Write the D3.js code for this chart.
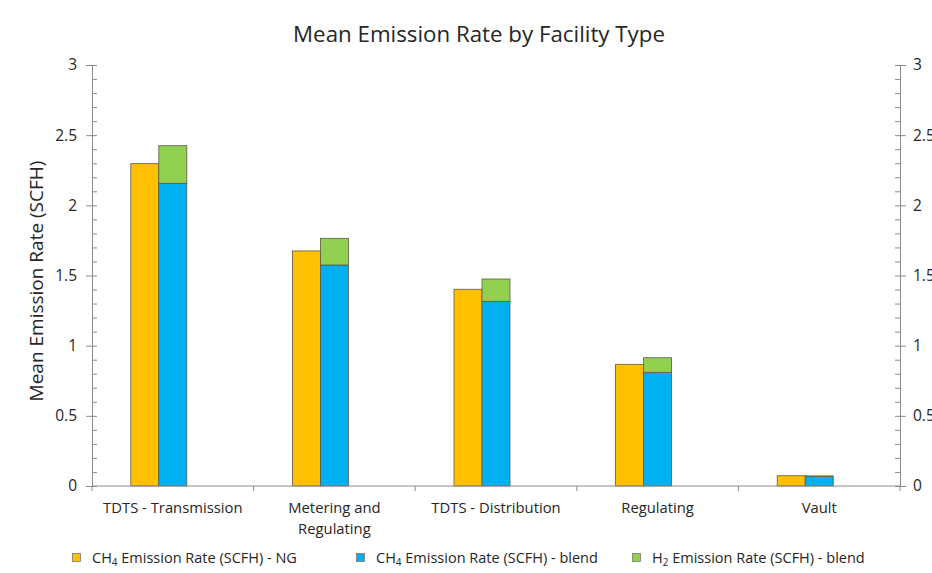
<!DOCTYPE html>
<html>
<head>
<meta charset="utf-8">
<script src="https://cdn.jsdelivr.net/npm/d3@7"></script>
<style>
  html, body { margin: 0; padding: 0; background: #fff; }
  svg { display: block; font-family: "Open Sans", sans-serif; }
</style>
</head>
<body>
<svg id="chart" width="932" height="573"></svg>
<script>
// ---- data ----
const categories = ["TDTS - Transmission", "Metering and Regulating", "TDTS - Distribution", "Regulating", "Vault"];
const categoryLines = [["TDTS - Transmission"], ["Metering and", "Regulating"], ["TDTS - Distribution"], ["Regulating"], ["Vault"]];
const ch4NG    = [2.297, 1.675, 1.402, 0.867, 0.073];
const ch4Blend = [2.157, 1.575, 1.316, 0.810, 0.068];
const h2Blend  = [0.268, 0.190, 0.159, 0.104, 0.004];
const yTicks = [0, 0.5, 1, 1.5, 2, 2.5, 3];
const yTickLabels = ["0", "0.5", "1", "1.5", "2", "2.5", "3"];
const minorTicks = d3.range(0, 31).map(i => i / 10);
const legendItems = [
  {main: "CH", sub: "4", rest: " Emission Rate (SCFH) - NG", color: "#FFC000"},
  {main: "CH", sub: "4", rest: " Emission Rate (SCFH) - blend", color: "#00B0F0"},
  {main: "H", sub: "2", rest: " Emission Rate (SCFH) - blend", color: "#92D050"}
];
const chartTitle = "Mean Emission Rate by Facility Type";
const yTitle = "Mean Emission Rate (SCFH)";

// ---- layout ----
const L = 92, R = 900, T = 65, B = 486;
const axisColor = "#8c8c8c", textColor = "#262626";
const svg = d3.select("#chart");

const x = d3.scaleBand().domain(categories).range([L, R]).paddingInner(0).paddingOuter(0);
const inner = d3.scaleBand().domain(["ng", "blend", "gap"]).range([0, x.bandwidth()]).paddingInner(0).paddingOuter(1.386);
const y = d3.scaleLinear().domain([0, 3]).range([B, T]);

// bars
const barStroke = "#5a5a4a";
const g = svg.append("g");
categories.forEach((c, i) => {
  const x0 = x(c);
  g.append("rect").attr("x", x0 + inner("ng")).attr("width", inner.bandwidth())
    .attr("y", y(ch4NG[i])).attr("height", y(0) - y(ch4NG[i]))
    .attr("fill", "#FFC000").attr("stroke", barStroke).attr("stroke-width", 0.8);
  g.append("rect").attr("x", x0 + inner("blend")).attr("width", inner.bandwidth())
    .attr("y", y(ch4Blend[i])).attr("height", y(0) - y(ch4Blend[i]))
    .attr("fill", "#00B0F0").attr("stroke", barStroke).attr("stroke-width", 0.8);
  g.append("rect").attr("x", x0 + inner("blend")).attr("width", inner.bandwidth())
    .attr("y", y(ch4Blend[i] + h2Blend[i])).attr("height", y(ch4Blend[i]) - y(ch4Blend[i] + h2Blend[i]))
    .attr("fill", "#92D050").attr("stroke", barStroke).attr("stroke-width", 0.8);
});

function styleAxis(sel) {
  sel.selectAll("path, line").attr("stroke", axisColor).attr("stroke-width", 1);
  sel.selectAll("text").attr("fill", textColor).attr("font-size", 15.5).attr("font-family", '"Open Sans", sans-serif');
}

// left axis: major outside + minor inside
const leftMajor = svg.append("g").attr("transform", `translate(${L},0)`)
  .call(d3.axisLeft(y).tickValues(yTicks).tickFormat((d, i) => yTickLabels[i]).tickSize(6).tickSizeOuter(0).tickPadding(9));
styleAxis(leftMajor);
const leftMinor = svg.append("g").attr("transform", `translate(${L},0)`)
  .call(d3.axisRight(y).tickValues(minorTicks).tickFormat("").tickSize(5).tickSizeOuter(0));
styleAxis(leftMinor);

// right axis
const rightMajor = svg.append("g").attr("transform", `translate(${R},0)`)
  .call(d3.axisRight(y).tickValues(yTicks).tickFormat((d, i) => yTickLabels[i]).tickSize(6).tickSizeOuter(0).tickPadding(7));
styleAxis(rightMajor);
const rightMinor = svg.append("g").attr("transform", `translate(${R},0)`)
  .call(d3.axisLeft(y).tickValues(minorTicks).tickFormat("").tickSize(5).tickSizeOuter(0));
styleAxis(rightMinor);

// x axis
const xAxis = svg.append("g").attr("transform", `translate(0,${B})`);
xAxis.append("line").attr("x1", L).attr("x2", R).attr("y1", 0).attr("y2", 0).attr("stroke", axisColor);
const boundaries = categories.map(c => x(c)).concat([R]);
xAxis.selectAll("line.tk").data(boundaries).enter().append("line").attr("class", "tk")
  .attr("x1", d => d).attr("x2", d => d).attr("y1", 0).attr("y2", 5).attr("stroke", axisColor);
categories.forEach((c, i) => {
  const t = xAxis.append("text").attr("x", x(c) + x.bandwidth() / 2).attr("y", 27)
    .attr("text-anchor", "middle").attr("fill", textColor).attr("font-size", 14.8);
  categoryLines[i].forEach((ln, j) => {
    t.append("tspan").attr("x", x(c) + x.bandwidth() / 2).attr("dy", j === 0 ? 0 : 21).text(ln);
  });
});

// title
svg.append("text").attr("x", 479).attr("y", 42).attr("text-anchor", "middle")
  .attr("font-size", 22.3).attr("fill", textColor).text(chartTitle);

// y title
svg.append("text").attr("transform", "translate(43,281) rotate(-90)").attr("text-anchor", "middle")
  .attr("font-size", 19).attr("fill", textColor).text(yTitle);

// legend
const legendX = [72, 356, 632];
legendItems.forEach((it, i) => {
  const lg = svg.append("g").attr("transform", `translate(${legendX[i]},553)`);
  lg.append("rect").attr("x", 0.5).attr("y", 0.5).attr("width", 8).attr("height", 8)
    .attr("fill", it.color).attr("stroke", "#7a7a6a").attr("stroke-width", 0.8);
  const t = lg.append("text").attr("x", 20).attr("y", 10).attr("fill", textColor).attr("font-size", 14.5);
  t.append("tspan").text(it.main);
  t.append("tspan").attr("font-size", 10).attr("dy", 3).text(it.sub);
  t.append("tspan").attr("dy", -3).text(it.rest);
});
</script>
</body>
</html>
